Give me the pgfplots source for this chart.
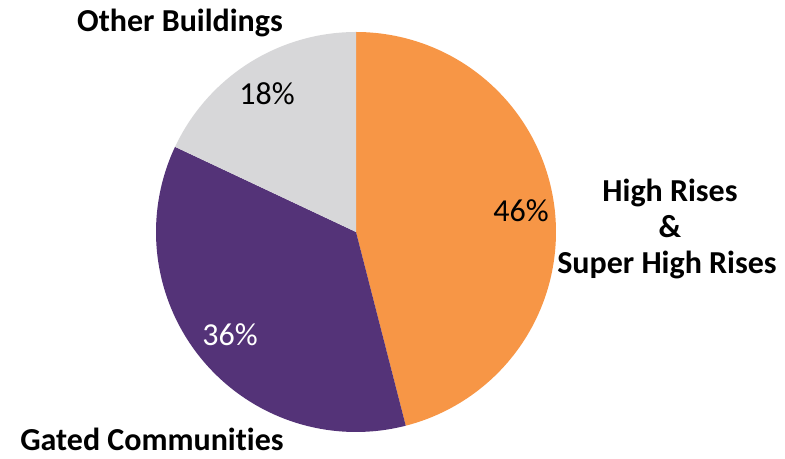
\documentclass[border=0pt]{standalone}
\usepackage{pgfplots}
\pgfplotsset{compat=1.18}
\usepackage{fontspec}
\setmainfont{Carlito}[Ligatures=NoCommon]
\definecolor{pieorange}{HTML}{F79646}
\definecolor{piepurple}{HTML}{543378}
\definecolor{piegray}{HTML}{D7D7D9}
\begin{document}
\begin{tikzpicture}
\begin{axis}[
  scale only axis, width=588.75pt, height=344.25pt,
  xmin=0, xmax=785, ymin=0, ymax=459,
  hide axis, clip=false,
]
% shares (percent): High Rises 46, Gated Communities 36, Other Buildings 18
\addplot[fill=pieorange, draw=none, domain={90-3.6*46}:90, samples=120]
  ({356+200*cos(x)},{227+200*sin(x)}) -- (axis cs:356,227) -- cycle;
\addplot[fill=piepurple, draw=none, domain={90-3.6*(46+36)}:{90-3.6*46}, samples=120]
  ({356+200*cos(x)},{227+200*sin(x)}) -- (axis cs:356,227) -- cycle;
\addplot[fill=piegray, draw=none, domain={90-3.6*(46+36+18)}:{90-3.6*(46+36)}, samples=60]
  ({356+200*cos(x)},{227+200*sin(x)}) -- (axis cs:356,227) -- cycle;
\node[anchor=base, font=\fontsize{24}{27}\selectfont] at (axis cs:521,237) {46\%};
\node[anchor=base, font=\fontsize{24}{27}\selectfont, text=white] at (axis cs:230,113) {36\%};
\node[anchor=base, font=\fontsize{24}{27}\selectfont] at (axis cs:267,354) {18\%};
\node[anchor=base, font=\fontsize{24}{27}\selectfont\bfseries] at (axis cs:180,427) {Other Buildings};
\node[anchor=base, font=\fontsize{24}{27}\selectfont\bfseries, inner sep=0pt] at (axis cs:152,8) {Gated Communities};
\node[anchor=base, font=\fontsize{24}{27}\selectfont\bfseries] at (axis cs:670,257) {High Rises};
\node[anchor=base, font=\fontsize{24}{27}\selectfont\bfseries] at (axis cs:670,221) {\&};
\node[anchor=base, font=\fontsize{24}{27}\selectfont\bfseries] at (axis cs:667,185) {Super High Rises};
\end{axis}
\pgfresetboundingbox
\path[use as bounding box] (0,0) rectangle (588.75pt,344.25pt);
\end{tikzpicture}
\end{document}
